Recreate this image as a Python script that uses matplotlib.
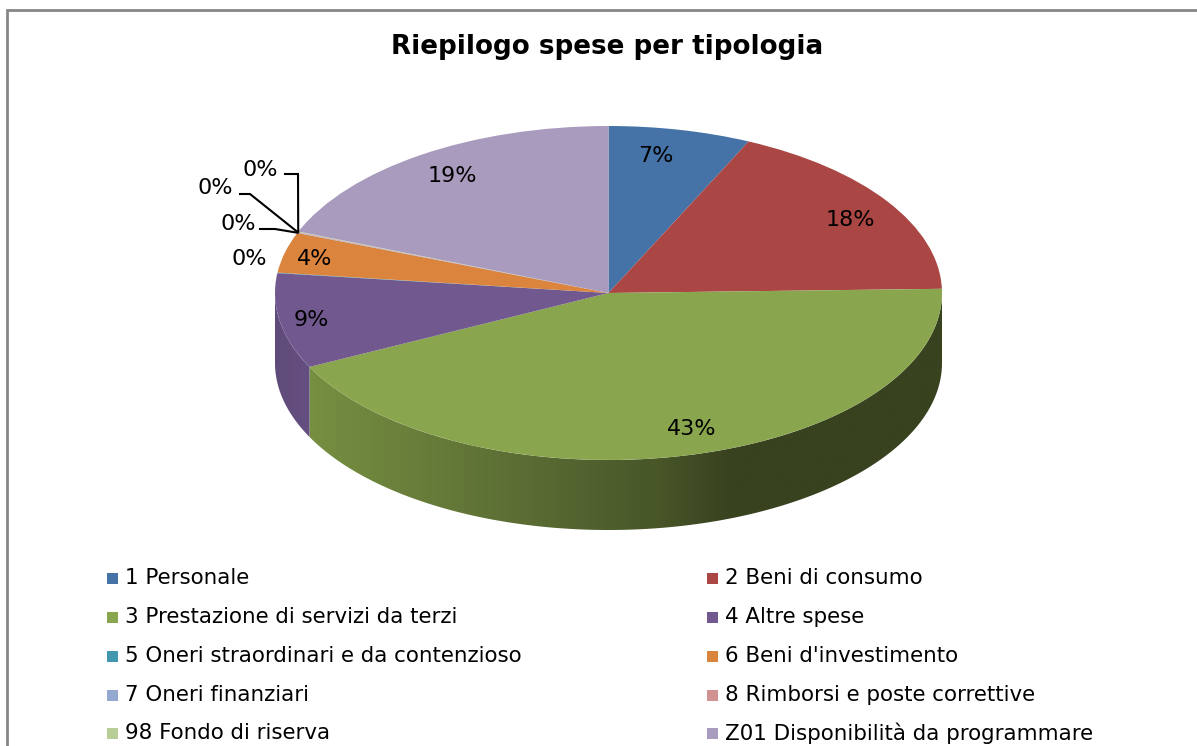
"""
Riepilogo spese per tipologia: torta con effetto 3D e legenda su due colonne
"""

import matplotlib
matplotlib.use('Agg')
import matplotlib.pyplot as plt
import numpy as np
from matplotlib.colors import LinearSegmentedColormap
from matplotlib.patches import Polygon, Rectangle

TITLE = 'Riepilogo spese per tipologia'
CATEGORIES = ['1 Personale', '2 Beni di consumo', '3 Prestazione di servizi da terzi',
              '4 Altre spese', '5 Oneri straordinari e da contenzioso', "6 Beni d'investimento",
              '7 Oneri finanziari', '8 Rimborsi e poste correttive', '98 Fondo di riserva',
              'Z01 Disponibilità da programmare']
VALUES = [6.9, 17.7, 43.1, 9.2, 0.05, 3.9, 0.05, 0.05, 0.05, 19.0]
COLORS = ['#4572a7', '#aa4643', '#89a54e', '#71588f', '#4198af',
          '#db843d', '#93a9cf', '#d19392', '#b9cd96', '#a99bbd']

# label centres in pixels of the picture, same order as VALUES
LABEL_POS = [(656, 156), (850, 220), (692, 429), (311, 320), (249, 259),
             (315, 259), (238, 224), (215, 188), (260, 170), (452, 176)]
# where the leader starts and bends, only for the tiny slices
LEADERS = {6: [(260, 229), (275, 229)], 7: [(240, 194), (250, 194)], 8: [(285, 174), (298, 174)]}

W, H = 1197, 746
PIE_LEFT, PIE_RIGHT, PIE_TOP, PIE_BOTTOM = 275, 942, 126, 530
DEPTH = 70 / 167  # wall height, in units of the vertical radius

fig = plt.figure(figsize=(W / 100, H / 100), dpi=100, facecolor='white')

# background axes in picture pixels, for border, text and legend
bg = fig.add_axes([0, 0, 1, 1], zorder=0)
bg.set_xlim(0, W)
bg.set_ylim(H, 0)
bg.axis('off')

ax = fig.add_axes([PIE_LEFT / W, 1 - PIE_BOTTOM / H, (PIE_RIGHT - PIE_LEFT) / W,
                   (PIE_BOTTOM - PIE_TOP) / H], zorder=1)
ax.pie(VALUES, colors=COLORS, startangle=90, counterclock=False, radius=1,
       wedgeprops={'linewidth': 0})
ax.set_aspect('auto')
ax.set_xlim(-1, 1)
ax.set_ylim(-1 - DEPTH, 1)
ax.axis('off')

shares = np.array(VALUES) / sum(VALUES)
edges = np.concatenate([[0], np.cumsum(shares)]) * 2 * np.pi  # clockwise from the top


def add_wall(start, end, stops):
    # side of the pie between two angles, filled with a horizontal gradient
    t = np.linspace(start, end, 200)
    x, y = np.sin(t), np.cos(t)
    outline = np.column_stack([np.r_[x, x[::-1]], np.r_[y, y[::-1] - DEPTH]])
    clip = Polygon(outline, transform=ax.transData, facecolor='none', edgecolor='none')
    ax.add_patch(clip)
    cmap = LinearSegmentedColormap.from_list('wall', stops)
    grad = np.linspace(0, 1, 256).reshape(1, -1)
    im = ax.imshow(grad, cmap=cmap, aspect='auto', zorder=0, interpolation='bilinear',
                   extent=(x.min(), x.max(), -1 - DEPTH, 1))
    im.set_clip_path(clip)


GREEN_WALL = [(0.0, '#768f41'), (0.4, '#566631'), (0.55, '#485628'), (0.67, '#38421f'), (1.0, '#38421f')]
PURPLE_WALL = [(0.0, '#5f4b79'), (1.0, '#654f81')]
add_wall(np.pi / 2, edges[3], GREEN_WALL)
add_wall(edges[3], 1.5 * np.pi, PURPLE_WALL)
ax.set_xlim(-1, 1)
ax.set_ylim(-1 - DEPTH, 1)

# border of the chart area (cut on the right and at the bottom)
bg.plot([7, 7, W], [H, 9.5, 9.5], color='#868686', linewidth=2.0, solid_joinstyle='miter')

bg.text(607, 47, TITLE, fontsize=18.8, fontweight='bold', ha='center', va='center', color='black')

# data labels on a top axes, so that they sit above the slices
top = fig.add_axes([0, 0, 1, 1], zorder=2)
top.set_xlim(0, W)
top.set_ylim(H, 0)
top.axis('off')
top.patch.set_alpha(0)

for value, (x, y) in zip(shares, LABEL_POS):
    top.text(x, y, f'{value * 100:.0f}%', fontsize=16, ha='center', va='center', color='black')

# leaders go to the rim of the slice they belong to
for i, bends in LEADERS.items():
    mid = (edges[i] + edges[i + 1]) / 2
    rim = top.transData.inverted().transform(ax.transData.transform((np.sin(mid), np.cos(mid))))
    xs, ys = zip(*bends, rim)
    top.plot(xs, ys, color='black', linewidth=1.5, solid_joinstyle='miter')

# legend, two columns, filled left to right
LEGEND_X = [107, 707]
LEGEND_Y = [578, 617, 656, 695, 733]
for i, (name, color) in enumerate(zip(CATEGORIES, COLORS)):
    x = LEGEND_X[i % 2]
    y = LEGEND_Y[i // 2]
    bg.add_patch(Rectangle((x, y - 5.5), 11, 11, facecolor=color, edgecolor='none'))
    bg.text(x + 18, y, name, fontsize=15.4, ha='left', va='center', color='black')

fig.savefig('out.png', dpi=100, facecolor='white')
